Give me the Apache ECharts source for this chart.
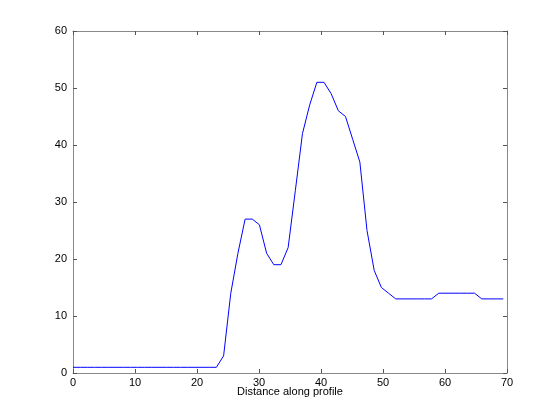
<!DOCTYPE html>
<html>
<head>
<meta charset="utf-8">
<script src="https://cdn.jsdelivr.net/npm/echarts@6/dist/echarts.min.js"></script>
<style>html,body{margin:0;padding:0;background:#fff}#c{width:560px;height:420px}</style>
</head>
<body>
<div id="c"></div>
<script>
const distance = [0,1.16,2.31,3.47,4.63,5.78,6.94,8.10,9.25,10.41,11.57,12.72,13.88,15.04,16.19,17.35,18.51,19.66,20.82,21.98,23.13,24.29,25.45,26.60,27.76,28.92,30.07,31.23,32.39,33.54,34.70,35.86,37.01,38.17,39.33,40.48,41.64,42.80,43.95,45.11,46.27,47.42,48.58,49.74,50.89,52.05,53.21,54.36,55.52,56.68,57.83,58.99,60.15,61.30,62.46,63.62,64.77,65.93,67.09,68.24,69.40];
const elevation = [1,1,1,1,1,1,1,1,1,1,1,1,1,1,1,1,1,1,1,1,1,3,14,21,27,27,26,21,19,19,22,32,42,47,51,51,49,46,45,41,37,25,18,15,14,13,13,13,13,13,13,14,14,14,14,14,14,13,13,13,13];
const xLabel = 'Distance along profile';

const axisGray = '#888888';
const font = 'Liberation Sans, Arial, Helvetica, sans-serif';
const chart = echarts.init(document.getElementById('c'), null, {renderer:'canvas'});
const data = distance.map((d,i)=>[d, elevation[i]]);
const baseX = {type:'value', min:0, max:70, interval:10,
  axisLine:{show:true, onZero:false, lineStyle:{color:axisGray, width:1}},
  axisTick:{show:true, inside:true, length:4, lineStyle:{color:'#555'}},
  splitLine:{show:false}};
const baseY = {type:'value', min:0, max:60, interval:10,
  axisLine:{show:true, onZero:false, lineStyle:{color:axisGray, width:1}},
  axisTick:{show:true, inside:true, length:4, lineStyle:{color:'#555'}},
  splitLine:{show:false}};
chart.setOption({
  animation:false,
  grid:{left:73, right:53, top:31, bottom:47},
  xAxis:[
    Object.assign({}, baseX, {position:'bottom',
      axisLabel:{color:'#000', fontSize:11, fontFamily:font, margin:4},
      name:xLabel, nameLocation:'middle', nameGap:13, nameMoveOverlap:false,
      nameTextStyle:{color:'#000', fontSize:11, fontFamily:font, verticalAlign:'top'}}),
    Object.assign({}, baseX, {position:'top', axisLabel:{show:false}})
  ],
  yAxis:[
    Object.assign({}, baseY, {position:'left',
      axisLabel:{color:'#000', fontSize:11, fontFamily:font, margin:6}}),
    Object.assign({}, baseY, {position:'right', axisLabel:{show:false}})
  ],
  series:[{type:'line', data:data, showSymbol:false, symbol:'none',
    lineStyle:{color:'#0000ff', width:1}, xAxisIndex:0, yAxisIndex:0}]
});
</script>
</body>
</html>
